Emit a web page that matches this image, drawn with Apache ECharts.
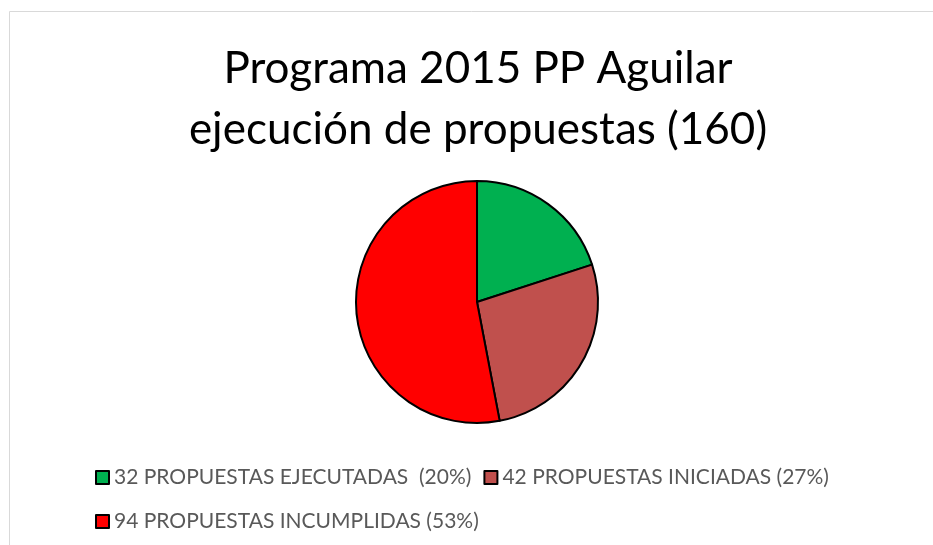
<!DOCTYPE html>
<html>
<head>
<meta charset="utf-8">
<script src="https://cdn.jsdelivr.net/npm/echarts@6/dist/echarts.min.js"></script>
<style>
  html, body { margin: 0; padding: 0; background: #fff; }
  #chart { width: 933px; height: 545px; }
</style>
</head>
<body>
<div id="chart"></div>
<script>
const titleLines = ["Programa 2015 PP Aguilar", "ejecución de propuestas (160)"]
const categories = [
  "32 PROPUESTAS EJECUTADAS  (20%)",
  "42 PROPUESTAS INICIADAS (27%)",
  "94 PROPUESTAS INCUMPLIDAS (53%)"
]
const shares = [20, 27, 53]
const colors = ["#00b050", "#c0504d", "#ff0000"]

const chart = echarts.init(document.getElementById("chart"))

const legendBase = {
  orient: "horizontal",
  left: 95,
  padding: 0,
  icon: "rect",
  itemWidth: 13,
  itemHeight: 13,
  itemGap: 12,
  itemStyle: { borderColor: "#000", borderWidth: 2 },
  textStyle: { fontFamily: "Lato", fontSize: 21, color: "#595959" },
  selectedMode: false
}

chart.setOption({
  animation: false,
  color: colors,
  graphic: [
    {
      type: "rect",
      shape: { x: 9.5, y: 11.5, width: 1000, height: 1000 },
      style: { fill: "none", stroke: "#d9d9d9", lineWidth: 1 },
      silent: true
    },
    {
      // two-line title, centred on the plot
      type: "text",
      x: 478,
      y: 38,
      silent: true,
      style: {
        text: titleLines.join("\n"),
        align: "center",
        verticalAlign: "top",
        font: "44px Lato",
        lineHeight: 61,
        fill: "#000"
      }
    }
  ],
  legend: [
    { ...legendBase, top: 467, data: categories.slice(0, 2) },
    { ...legendBase, top: 511, data: categories.slice(2) }
  ],
  series: [
    {
      type: "pie",
      center: [477, 302],
      radius: 121,
      startAngle: 90,
      clockwise: true,
      label: { show: false },
      labelLine: { show: false },
      itemStyle: { borderColor: "#000", borderWidth: 2 },
      emphasis: { disabled: true },
      data: categories.map((name, i) => ({ name, value: shares[i] }))
    }
  ]
})
</script>
</body>
</html>
